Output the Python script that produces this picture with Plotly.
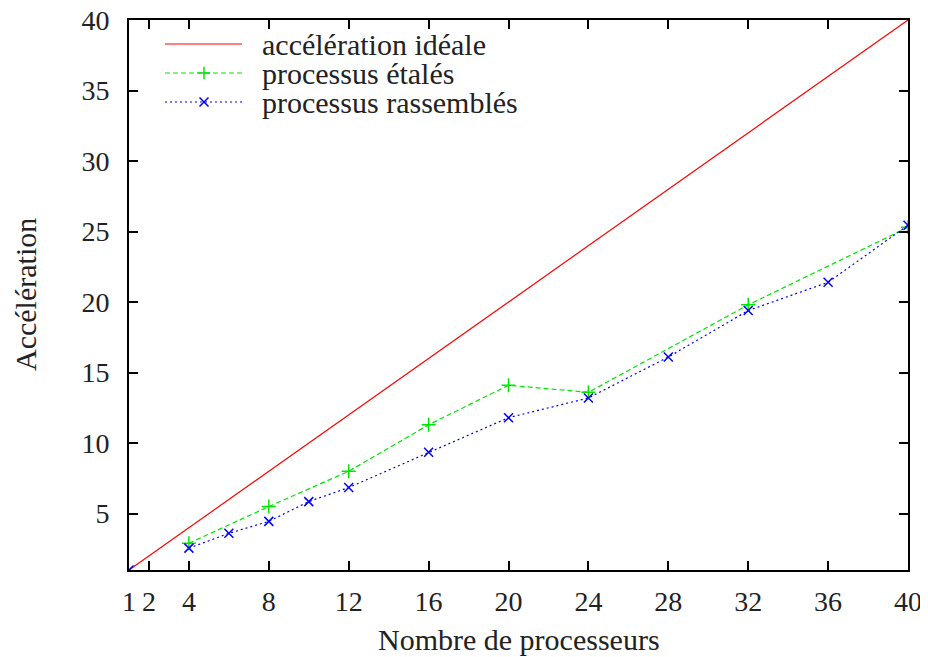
import plotly.graph_objects as go

# ---- data ----
x_ideal = [1, 40]
y_ideal = [1, 40]

x_etales = [4, 8, 12, 16, 20, 24, 32, 40]
y_etales = [2.9, 5.5, 8.0, 11.3, 14.1, 13.6, 19.8, 25.3]

x_rass = [1, 2, 4, 6, 8, 10, 12, 16, 20, 24, 28, 32, 36, 40]
y_rass = [1.0, None, 2.55, 3.6, 4.45, 5.85, 6.85, 9.35, 11.8, 13.2, 16.1, 19.4, 21.4, 25.45]

x_ticks = [1, 2, 4, 8, 12, 16, 20, 24, 28, 32, 36, 40]
y_ticks = [5, 10, 15, 20, 25, 30, 35, 40]

legend_names = ["accélération idéale", "processus étalés", "processus rassemblés"]

RED = "#ff0000"
GREEN = "#00e600"
BLUE = "#0000ff"
FONT = "Liberation Serif"
FS_TEXT = 30
FS_TICK = 28
TXT = "#222222"

fig = go.Figure()
fig.add_trace(go.Scatter(x=x_ideal, y=y_ideal, mode="lines",
                         line=dict(color=RED, width=1.2), showlegend=False))
fig.add_trace(go.Scatter(x=x_etales, y=y_etales, mode="lines+markers",
                         line=dict(color=GREEN, width=1.2, dash="5px,3px"),
                         marker=dict(symbol="cross-thin", size=10, line=dict(color=GREEN, width=1.5)),
                         showlegend=False))
fig.add_trace(go.Scatter(x=x_rass, y=y_rass, mode="lines+markers", connectgaps=False,
                         line=dict(color=BLUE, width=1.2, dash="2px,3px"),
                         marker=dict(symbol="x-thin", size=9, line=dict(color=BLUE, width=1.5)),
                         showlegend=False))

# ---- custom legend on a hidden pixel-scaled overlay axis (page pixel coords) ----
leg_rows = [44, 73, 102]
leg_x0, leg_x1, leg_xm, leg_text = 165, 242, 204, 260
styles = [
    (RED, "solid", None),
    (GREEN, "5px,3px", "cross-thin"),
    (BLUE, "2px,3px", "x-thin"),
]
for (col, dash, sym), yy, name in zip(styles, leg_rows, legend_names):
    fig.add_trace(go.Scatter(x=[leg_x0, leg_x1], y=[yy, yy], mode="lines",
                             line=dict(color=col, width=1.2, dash=dash),
                             xaxis="x2", yaxis="y2", showlegend=False, hoverinfo="skip"))
    if sym:
        fig.add_trace(go.Scatter(x=[leg_xm], y=[yy], mode="markers",
                                 marker=dict(symbol=sym, size=9, line=dict(color=col, width=1.5)),
                                 xaxis="x2", yaxis="y2", showlegend=False, hoverinfo="skip"))
    fig.add_annotation(x=leg_text, y=yy, xref="x2", yref="y2", text=name, showarrow=False,
                       xanchor="left", yanchor="middle",
                       font=dict(family=FONT, size=FS_TEXT, color=TXT))

axis_common = dict(showline=True, linecolor="black", linewidth=2, mirror="ticks",
                   ticks="inside", ticklen=9, tickwidth=1.5, tickcolor="black",
                   showgrid=False, zeroline=False, automargin=False,
                   ticklabeloverflow="allow",
                   tickfont=dict(family=FONT, size=FS_TICK, color=TXT))

# page has an 8px body margin, so the figure is 920x649 with margins set accordingly
fig.update_layout(
    width=920, height=649,
    margin=dict(l=121, r=20, t=12, b=87, autoexpand=False),
    paper_bgcolor="white", plot_bgcolor="white",
    showlegend=False,
    font=dict(family=FONT),
    xaxis=dict(range=[1, 40], tickvals=x_ticks, ticktext=[str(v) for v in x_ticks],
               ticklabelstandoff=5, **axis_common),
    yaxis=dict(range=[1, 40], tickvals=y_ticks, ticktext=[str(v) for v in y_ticks],
               ticklabelstandoff=12, **axis_common),
    xaxis2=dict(overlaying="x", anchor="y2", range=[129, 908], visible=False, fixedrange=True),
    yaxis2=dict(overlaying="y", anchor="x2", range=[570, 20], visible=False, fixedrange=True),
)

fig.add_annotation(x=0.5, y=-0.127, xref="paper", yref="paper", yanchor="middle",
                   text="Nombre de processeurs", showarrow=False,
                   font=dict(family=FONT, size=FS_TEXT, color=TXT))
fig.add_annotation(x=-0.1335, y=0.5, xref="paper", yref="paper", xanchor="center",
                   text="Accélération", showarrow=False, textangle=-90,
                   font=dict(family=FONT, size=FS_TEXT, color=TXT))

fig.write_html("out.html")
